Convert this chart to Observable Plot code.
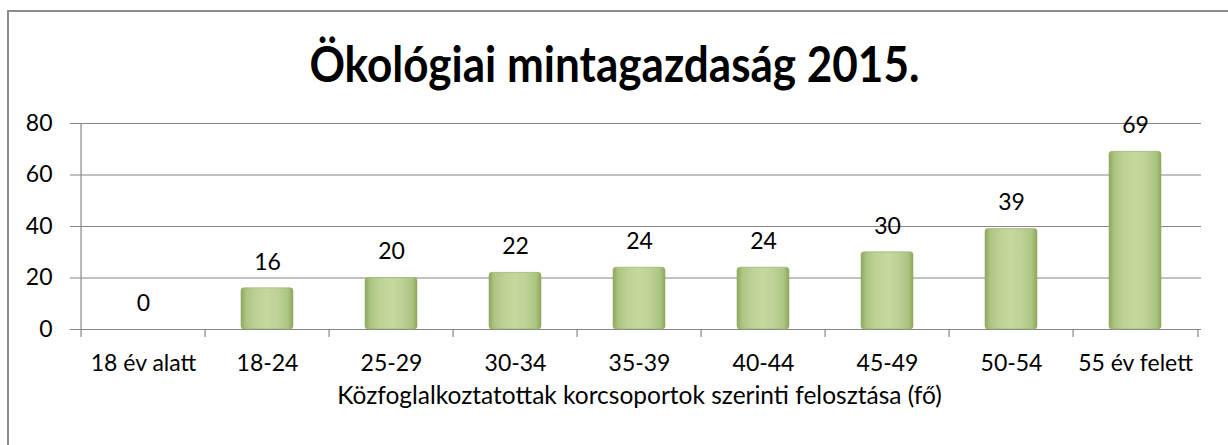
<!DOCTYPE html>
<html>
<head>
<meta charset="utf-8">
<script src="https://cdn.jsdelivr.net/npm/d3@7"></script>
<script src="https://cdn.jsdelivr.net/npm/@observablehq/plot@0.6"></script>
<style>
  html, body { margin: 0; padding: 0; background: #fff; overflow: hidden; }
  #wrap { position: relative; width: 1228px; height: 445px; overflow: hidden; font-family: Lato, "Open Sans", sans-serif; }
  #btop { position: absolute; left: 7px; top: 10px; width: 1221px; height: 2px; background: #8c8c8c; }
  #bleft { position: absolute; left: 7px; top: 10px; width: 2px; height: 435px; background: #8c8c8c; }
  #title { position: absolute; left: 0; top: 28px; width: 1228px; text-align: center; font-weight: 700; font-size: 50px; line-height: 70px; color: #000; white-space: nowrap; }
  #title span { display: inline-block; transform-origin: center; }
  #chart { position: absolute; left: 0; top: 90px; }
</style>
</head>
<body>
<div id="wrap">
  <div id="btop"></div>
  <div id="bleft"></div>
  <div id="title"><span id="tt">Ökológiai mintagazdaság 2015.</span></div>
  <div id="chart"></div>
</div>
<script>
const categories = ["18 év alatt", "18-24", "25-29", "30-34", "35-39", "40-44", "45-49", "50-54", "55 év felett"];
const values = [0, 16, 20, 22, 24, 24, 30, 39, 69];
const yTicks = [0, 20, 40, 60, 80];
const xTitle = "Közfoglalkoztatottak korcsoportok szerinti felosztása (fő)";

const data = categories.map((c, i) => ({cat: c, value: values[i]}));

const W = 1228, H = 355, mL = 77, mR = 27, mT = 33, mB = 116;
const step = (W - mL - mR) / categories.length;
const gray = "#868686";
const font = "Lato, 'Open Sans', sans-serif";

const defs = () => {
  const ns = "http://www.w3.org/2000/svg";
  const d = document.createElementNS(ns, "defs");
  const g = document.createElementNS(ns, "linearGradient");
  g.setAttribute("id", "barGrad");
  g.setAttribute("x1", "0"); g.setAttribute("x2", "1");
  g.setAttribute("y1", "0"); g.setAttribute("y2", "0");
  [["0%", "#8ea65c"], ["10%", "#adc582"], ["30%", "#bdd295"], ["50%", "#c4d89e"], ["70%", "#bdd295"], ["90%", "#adc582"], ["100%", "#8ea65c"]].forEach(([o, c]) => {
    const s = document.createElementNS(ns, "stop");
    s.setAttribute("offset", o); s.setAttribute("stop-color", c);
    g.appendChild(s);
  });
  d.appendChild(g);
  return d;
};

const chart = Plot.plot({
  width: W, height: H,
  marginLeft: mL, marginRight: mR, marginTop: mT, marginBottom: mB,
  style: {fontFamily: font, color: "#000", background: "transparent", overflow: "visible"},
  x: {domain: categories, paddingInner: 0.58, paddingOuter: 0.29},
  y: {domain: [0, yTicks[yTicks.length - 1]]},
  marks: [
    defs,
    Plot.ruleY(yTicks, {stroke: gray, strokeWidth: 1.2, insetLeft: -7}),
    Plot.tickX(categories.slice(0, 1), {x: d => d, dx: -step / 2, stroke: gray, strokeWidth: 1.2}),
    Plot.axisX({tickSize: 8, tickFormat: () => "", dx: -step / 2, stroke: gray, strokeWidth: 1.2, label: null}),
    Plot.axisX({ticks: categories.slice(-1), tickSize: 8, tickFormat: () => "", dx: step / 2, stroke: gray, strokeWidth: 1.2, label: null}),
    Plot.axisX({tickSize: 0, tickPadding: 25, fontSize: 23, fill: "#000", label: null}),
    Plot.axisY({ticks: yTicks, tickSize: 0, tickPadding: 25, fontSize: 23, fill: "#000", label: null}),
    Plot.barY(data, {x: "cat", y: "value", fill: "url(#barGrad)", rx: 3, stroke: "#94ab66", strokeWidth: 0.6}),
    Plot.text(data, {x: "cat", y: "value", text: d => String(d.value), dy: -26, fontSize: 23, fill: "#000"}),
    Plot.text([xTitle], {frameAnchor: "bottom", dy: 74, fontSize: 24.5, fill: "#000"})
  ]
});
document.getElementById("chart").appendChild(chart);

// fit title width to reference
const tt = document.getElementById("tt");
const w = tt.getBoundingClientRect().width;
tt.style.transform = `scaleX(${610 / w})`;
</script>
</body>
</html>
